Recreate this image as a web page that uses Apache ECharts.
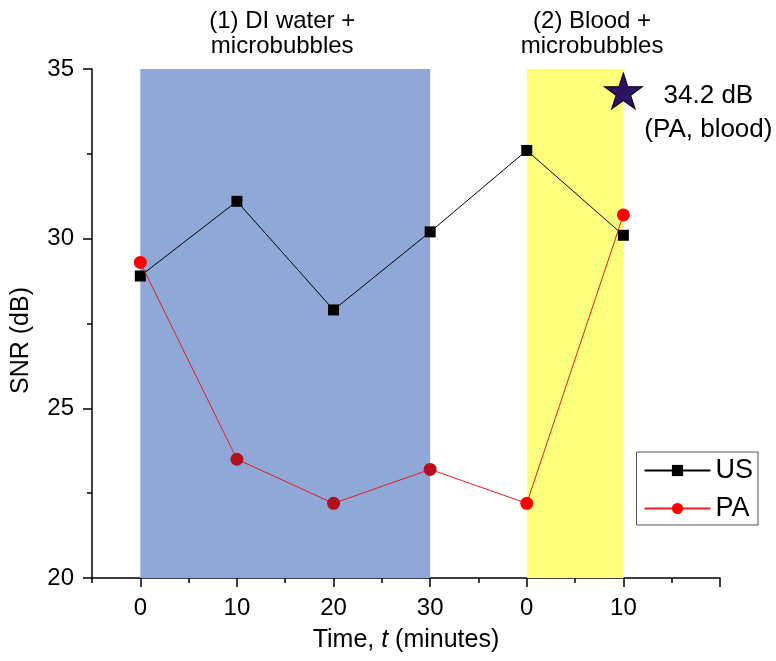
<!DOCTYPE html>
<html>
<head>
<meta charset="utf-8">
<script src="https://cdn.jsdelivr.net/npm/echarts@6/dist/echarts.min.js"></script>
<style>html,body{margin:0;padding:0;background:#fff}#c{width:776px;height:661px}</style>
</head>
<body>
<div id="c"></div>
<script>
const positions = [0, 1, 2, 3, 4, 5];
const tickLabels = ['0', '10', '20', '30', '0', '10'];
const usValues = [28.9, 31.1, 27.9, 30.2, 32.6, 30.1];
const paValues = [29.3, 23.5, 22.2, 23.2, 22.2, 30.7];
const starPoint = [5, 34.35];
const starText = '34.2 dB\n(PA, blood)';
const phase1 = [0, 3];
const phase2 = [4, 5];
const phase1Text = '(1) DI water +\nmicrobubbles';
const phase2Text = '(2) Blood +\nmicrobubbles';
const xMajorTicks = [0, 1, 2, 3, 4, 5, 6];
const xMinorTicks = [-0.5, 0.5, 1.5, 2.5, 3.5, 4.5, 5.5];
const yMajorTicks = [20, 25, 30, 35];
const yMinorTicks = [22.5, 27.5, 32.5];

const FONT = 'Liberation Sans';
const usData = positions.map((p, i) => [p, usValues[i]]);
const paData = positions.map((p, i) => [p, paValues[i]]);

function starPath() {
  let d = '';
  for (let i = 0; i < 10; i++) {
    const r = i % 2 === 0 ? 50 : 19.1;
    const a = -Math.PI / 2 + i * Math.PI / 5;
    const x = 50 + r * Math.cos(a), y = 50 + r * Math.sin(a);
    d += (i === 0 ? 'M' : 'L') + x.toFixed(2) + ' ' + y.toFixed(2) + ' ';
  }
  return 'path://' + d + 'Z';
}

const tickStyle = { color: '#000', width: 1.5 };
const chart = echarts.init(document.getElementById('c'));
chart.setOption({
  animation: false,
  grid: { left: 92, right: 56, top: 69, bottom: 83 },
  legend: {
    orient: 'vertical', right: 18, top: 452,
    data: ['US', 'PA'],
    borderColor: '#555', borderWidth: 1, borderRadius: 0,
    padding: [5, 5, 3, 7],
    itemWidth: 66, itemHeight: 14, itemGap: 11,
    textStyle: { fontFamily: FONT, fontSize: 27, color: '#000' }
  },
  visualMap: {
    type: 'piecewise', show: false, seriesIndex: 1, dimension: 0,
    pieces: [
      { lte: 0.01, color: '#ff0000' },
      { gt: 0.01, lte: 3, color: '#b3101e' },
      { gt: 3, color: '#ff0000' }
    ]
  },
  xAxis: [
    {
      type: 'value', min: -0.5, max: 6, interval: 0.5, position: 'bottom',
      name: 'Time, {i|t} (minutes)',
      nameLocation: 'middle', nameGap: 50,
      nameTextStyle: { fontFamily: FONT, fontSize: 25, color: '#000',
        rich: { i: { fontFamily: FONT, fontSize: 25, fontStyle: 'italic', color: '#000' } } },
      axisLine: { show: true, onZero: false, lineStyle: { color: '#000', width: 1.5 } },
      axisTick: { show: true, length: 9, lineStyle: tickStyle, customValues: xMajorTicks },
      axisLabel: { fontFamily: FONT, fontSize: 24, color: '#000', margin: 18,
        customValues: positions,
        formatter: v => { const k = Math.round(v); return (Math.abs(v - k) < 1e-6 && k >= 0 && k < tickLabels.length) ? tickLabels[k] : ''; } },
      splitLine: { show: false }
    },
    {
      type: 'value', min: -0.5, max: 6, interval: 0.5, position: 'bottom', offset: 0,
      axisLine: { show: false, onZero: false },
      axisTick: { show: true, length: 5, lineStyle: tickStyle, customValues: xMinorTicks },
      axisLabel: { show: false },
      splitLine: { show: false }
    }
  ],
  yAxis: [
    {
      type: 'value', min: 20, max: 35, interval: 2.5, position: 'left',
      name: 'SNR (dB)', nameLocation: 'middle', nameGap: 58,
      nameTextStyle: { fontFamily: FONT, fontSize: 25, color: '#000', padding: [0, 34, 0, 0] },
      axisLine: { show: true, onZero: false, lineStyle: { color: '#000', width: 1.5 } },
      axisTick: { show: true, length: 9, lineStyle: tickStyle, customValues: yMajorTicks },
      axisLabel: { fontFamily: FONT, fontSize: 24, color: '#000', margin: 18, customValues: yMajorTicks },
      splitLine: { show: false }
    },
    {
      type: 'value', min: 20, max: 35, interval: 2.5, position: 'left', offset: 0,
      axisLine: { show: false, onZero: false },
      axisTick: { show: true, length: 5, lineStyle: tickStyle, customValues: yMinorTicks },
      axisLabel: { show: false },
      splitLine: { show: false }
    }
  ],
  series: [
    {
      name: 'US', type: 'line', data: usData,
      symbol: 'rect', symbolSize: 11,
      itemStyle: { color: '#000' },
      lineStyle: { color: '#000', width: 1 },
      z: 3,
      markArea: {
        silent: true,
        label: { position: 'top', distance: 10, fontFamily: FONT, fontSize: 24, color: '#000', lineHeight: 25 },
        data: [
          [{ xAxis: phase1[0], yAxis: 20, name: phase1Text, itemStyle: { color: '#8fa8d8' }, label: { offset: [-3, 0] } },
           { xAxis: phase1[1], yAxis: 35 }],
          [{ xAxis: phase2[0], yAxis: 20, name: phase2Text, itemStyle: { color: '#ffff7e' }, label: { offset: [17, 0] } },
           { xAxis: phase2[1], yAxis: 35 }]
        ]
      }
    },
    {
      name: 'PA', type: 'line', data: paData,
      symbol: 'circle', symbolSize: 13,
      itemStyle: { color: '#ff0000' },
      lineStyle: { color: '#e02020', width: 1 },
      z: 4
    },
    {
      name: 'star', type: 'scatter', data: [starPoint],
      symbol: starPath(), symbolSize: [38, 36],
      itemStyle: { color: '#2d1163', borderColor: '#000', borderWidth: 1, opacity: 1 },
      label: { show: true, position: 'inside', offset: [85, 22], formatter: starText,
        fontFamily: FONT, fontSize: 26, color: '#000', lineHeight: 34, align: 'center', opacity: 1 },
      z: 5
    }
  ]
});
</script>
</body>
</html>
